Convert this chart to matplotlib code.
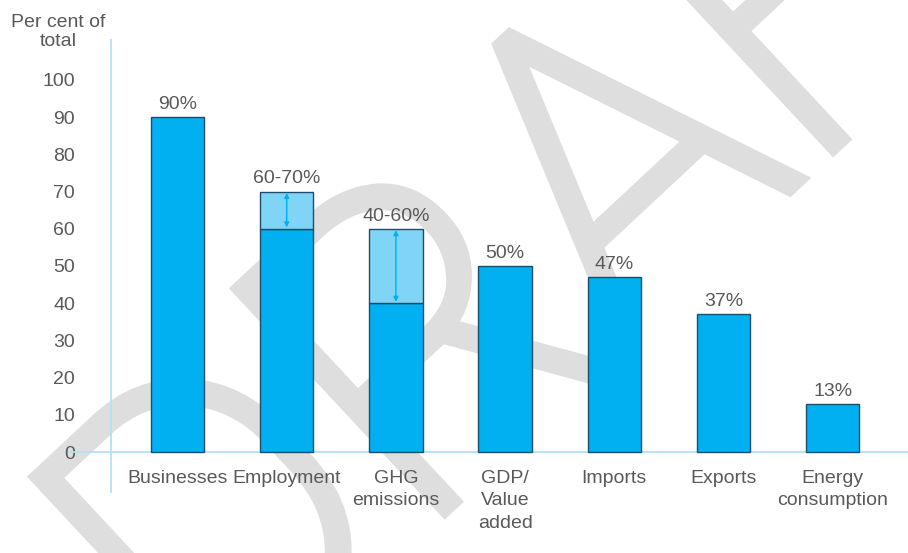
import matplotlib.pyplot as plt
import matplotlib.patheffects as pe
import numpy as np

categories = ["Businesses", "Employment", "GHG\nemissions", "GDP/\nValue\nadded",
              "Imports", "Exports", "Energy\nconsumption"]
low = [90, 60, 40, 50, 47, 37, 13]
high = [90, 70, 60, 50, 47, 37, 13]
value_labels = ["90%", "60-70%", "40-60%", "50%", "47%", "37%", "13%"]
yticks = list(range(0, 101, 10))

plt.rcParams["font.family"] = ["Liberation Sans", "DejaVu Sans"]

BLUE = "#00b0f0"
LIGHT = "#80d4f5"
EDGE = "#1d4d6b"
AXIS = "#b3e1f2"
GREY = "#595959"
WM = "#dedede"
FS = 14

fig = plt.figure(figsize=(9.08, 5.53), dpi=100)
ax = fig.add_axes([68 / 908, 60 / 553, 840 / 908, 454 / 553])
ax.set_facecolor("none")

# watermark sits behind the axes; thin face thickened with a stroke
fig.text(0.672, 0.645, "DRAFT", fontsize=305, family=["Roboto", "DejaVu Sans"],
         fontweight="light", color=WM, rotation=43, rotation_mode="anchor",
         ha="center", va="center", zorder=-1,
         path_effects=[pe.withStroke(linewidth=11, foreground=WM,
                                     joinstyle="miter", capstyle="butt")])

x = np.arange(len(categories))
low_a = np.array(low)
high_a = np.array(high)
rng = high_a > low_a

ax.bar(x, low_a, width=0.49, color=BLUE, edgecolor=EDGE, linewidth=1, zorder=3)
ax.bar(x[rng], (high_a - low_a)[rng], bottom=low_a[rng], width=0.49,
       color=LIGHT, edgecolor=EDGE, linewidth=1, zorder=3)

for i in x[rng]:
    ax.annotate("", xy=(i, high_a[i]), xytext=(i, low_a[i]),
                arrowprops=dict(arrowstyle="<|-|>", color=BLUE, lw=1,
                                shrinkA=1, shrinkB=1, mutation_scale=7),
                zorder=4)

for i, lbl in enumerate(value_labels):
    ax.annotate(lbl, (i, high_a[i]), xytext=(0, 3), textcoords="offset points",
                ha="center", va="bottom", fontsize=FS, color=GREY)

for i, cat in enumerate(categories):
    ax.annotate(cat, (i, 0), xytext=(0, -13), textcoords="offset points",
                ha="center", va="top", fontsize=FS, color=GREY, linespacing=1.4)

ax.axhline(0, color=AXIS, lw=1.3, zorder=2)
ax.axvline(-0.609, color=AXIS, lw=1.3, zorder=2)

ax.set_xlim(-1.003, 6.69)
ax.set_ylim(-11, 111)
ax.set_xticks([])
ax.set_yticks(yticks)
ax.tick_params(axis="y", length=0, pad=-5, labelsize=FS, labelcolor=GREY)
for s in ax.spines.values():
    s.set_visible(False)

fig.text(58 / 908, 1 - 32 / 553, "Per cent of\ntotal", ha="center", va="center",
         fontsize=FS, color=GREY)

fig.savefig("out.png", dpi=100)
